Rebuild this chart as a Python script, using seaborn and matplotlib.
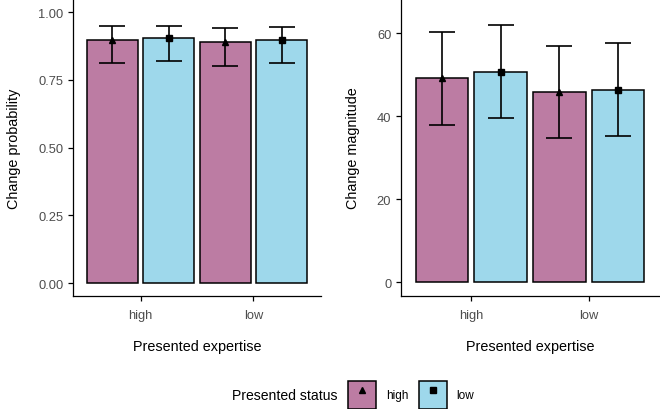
import pandas as pd
import seaborn as sns
import matplotlib.pyplot as plt
from matplotlib.patches import Patch
from matplotlib.lines import Line2D

# summary values
expertise = ['high', 'high', 'low', 'low']
status = ['high', 'low', 'high', 'low']

prob_mean = [0.899, 0.904, 0.891, 0.898]
prob_lo = [0.814, 0.821, 0.802, 0.812]
prob_hi = [0.949, 0.951, 0.943, 0.947]

mag_mean = [49.2, 50.7, 45.8, 46.4]
mag_lo = [37.9, 39.5, 34.7, 35.2]
mag_hi = [60.2, 61.9, 57.0, 57.7]

colors = {'high': '#BC7CA3', 'low': '#9ED8EB'}
markers = {'high': '^', 'low': 's'}

plt.rcParams['font.family'] = ['Liberation Sans', 'DejaVu Sans']

fig = plt.figure(figsize=(6.6, 4.1), dpi=100)
ax1 = fig.add_axes([73 / 660, 113 / 410, 248 / 660, 297 / 410])
ax2 = fig.add_axes([401 / 660, 113 / 410, 258 / 660, 297 / 410])


def panel(ax, mean, lo, hi, ylabel, ylim, yticks, fmt):
    df = pd.DataFrame({'expertise': expertise, 'status': status,
                       'mean': mean, 'lo': lo, 'hi': hi})
    sns.barplot(data=df, x='expertise', y='mean', hue='status',
                order=['high', 'low'], hue_order=['high', 'low'],
                palette=colors, width=1.0, gap=0.1, errorbar=None,
                edgecolor='black', linewidth=1.1, saturation=1,
                legend=False, ax=ax)
    bars = sorted(ax.patches, key=lambda p: p.get_x())
    for bar, (_, row) in zip(bars, df.iterrows()):
        xc = bar.get_x() + bar.get_width() / 2
        ax.errorbar(xc, row['mean'],
                    yerr=[[row['mean'] - row['lo']], [row['hi'] - row['mean']]],
                    fmt=markers[row['status']], color='black', ms=5,
                    capsize=9.5, elinewidth=1.2, capthick=1.2)
    ax.set_xlim(-0.6, 1.6)
    ax.set_ylim(*ylim)
    ax.set_yticks(yticks)
    ax.set_yticklabels([fmt.format(v) for v in yticks])
    ax.set_xlabel('Presented expertise', fontsize=10.4, labelpad=13)
    ax.set_ylabel(ylabel, fontsize=10.4, labelpad=12)
    sns.despine(ax=ax)
    for s in ['left', 'bottom']:
        ax.spines[s].set_linewidth(0.9)
    ax.tick_params(length=3.5, width=0.9, labelsize=9.3, labelcolor='#4D4D4D')
    ax.tick_params(axis='x', pad=6)


panel(ax1, prob_mean, prob_lo, prob_hi, 'Change probability',
      (-0.048, 1.049), [0, 0.25, 0.5, 0.75, 1.0], '{:.2f}')
panel(ax2, mag_mean, mag_lo, mag_hi, 'Change magnitude',
      (-3.3, 68.2), [0, 20, 40, 60], '{:.0f}')

handles = [(Patch(facecolor=colors[s], edgecolor='black', linewidth=1.1),
            Line2D([], [], marker=markers[s], color='black', ls='none', ms=5))
           for s in ['high', 'low']]
fig.text(232 / 660, 1 - 396 / 410, 'Presented status', fontsize=10.1,
         va='center', ha='left')
fig.legend(handles, ['high', 'low'], ncol=2, frameon=False, fontsize=8.5,
           loc='center left', bbox_to_anchor=(348 / 660, 1 - 396 / 410),
           handlelength=2.4, handleheight=3.3, columnspacing=0.9,
           handletextpad=0.8, borderaxespad=0, borderpad=0)

fig.savefig('out.png', dpi=100)
